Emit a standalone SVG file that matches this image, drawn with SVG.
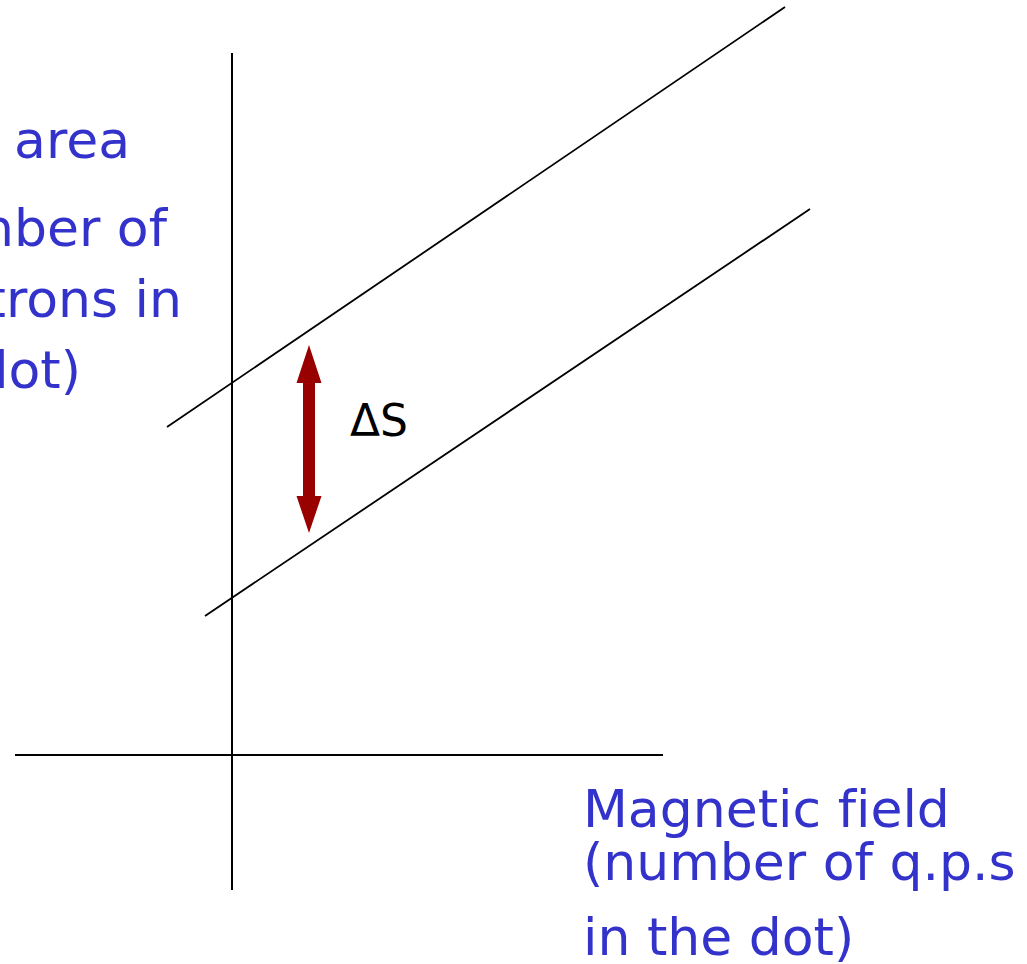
<svg xmlns="http://www.w3.org/2000/svg" width="1027" height="964" viewBox="0 0 1027 964">
  <style>
    .ax { stroke: #000; stroke-width: 2; fill: none; }
    .ln { stroke: #000; stroke-width: 1.8; fill: none; }
    .lbl { font-family: "DejaVu Sans", "Liberation Sans", sans-serif; font-size: 52px; fill: #3333CC; font-variant-ligatures: none; }
    .ds { font-family: "DejaVu Sans", "Liberation Sans", sans-serif; font-size: 44px; fill: #000; }
  </style>
  <rect x="0" y="0" width="1027" height="964" fill="#fff"/>
  <g id="axes">
    <line class="ax" x1="232" y1="53" x2="232" y2="890"/>
    <line class="ax" x1="15" y1="755" x2="663" y2="755"/>
  </g>
  <g id="connectors">
    <line class="ln" x1="167" y1="427" x2="785" y2="7"/>
    <line class="ln" x1="205" y1="616" x2="810" y2="209"/>
  </g>
  <g id="delta-arrow">
    <polygon fill="#990000" points="309,345 321.5,383 315,383 315,496 321.5,496 309,533 296.5,496 303,496 303,383 296.5,383"/>
    <text class="ds" x="350" y="436">ΔS</text>
  </g>
  <g id="y-label">
    <text class="lbl" x="130" y="158" text-anchor="end">area</text>
    <text class="lbl" x="167" y="246" text-anchor="end">nber of</text>
    <text class="lbl" x="182" y="317" text-anchor="end">trons in</text>
    <text class="lbl" x="81" y="388" text-anchor="end">dot)</text>
  </g>
  <g id="x-label">
    <text class="lbl" x="583" y="827">Magnetic field</text>
    <text class="lbl" x="583" y="880">(number of q.p.s</text>
    <text class="lbl" x="583" y="955">in the dot)</text>
  </g>
</svg>
